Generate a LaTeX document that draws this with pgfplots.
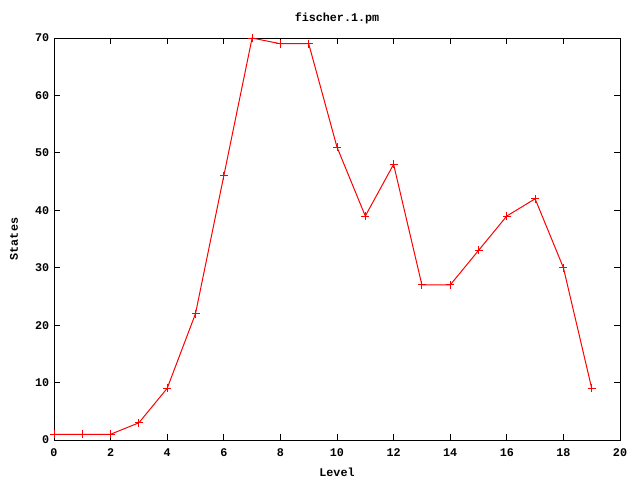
\documentclass[border=0pt]{standalone}
\usepackage{pgfplots}
\pgfplotsset{compat=1.18}
\usepackage{fontspec}
\setmainfont{Liberation Mono}[BoldFont={Liberation Mono Bold}]
\begin{document}
\begin{tikzpicture}
\useasboundingbox (0,0) rectangle (480pt,360pt);
\begin{axis}[
  scale only axis,
  width=424.5pt, height=301.5pt,
  at={(40.5pt,30pt)}, anchor=south west,
  xmin=0, xmax=20, ymin=0, ymax=70,
  xtick={0,2,...,20}, ytick={0,10,...,70},
  tick align=inside, major tick length=4.5pt,
  axis line style={black, line width=0.75pt},
  every tick/.style={black, line width=0.75pt},
  /pgf/number format/assume math mode=true,
  tick label style={font=\fontsize{8.8pt}{10pt}\selectfont\bfseries},
  xticklabel style={yshift=-3pt},
  title={fischer.1.pm},
  title style={font=\fontsize{8.8pt}{10pt}\selectfont\bfseries, at={(0.5,1)}, anchor=center, yshift=9pt},
  xlabel={Level},
  xlabel style={font=\fontsize{8.8pt}{10pt}\selectfont\bfseries, at={(0.5,0)}, anchor=center, yshift=-24pt},
  ylabel={States},
  ylabel style={font=\fontsize{8.8pt}{10pt}\selectfont\bfseries, at={(0,0.5)}, anchor=center, yshift=30pt},
  clip=false,
]
\addplot[color={rgb,255:red,255;green,0;blue,0}, line width=0.75pt, mark=+, mark size=3pt, mark options={line width=0.75pt}] coordinates {
(0,1) (1,1) (2,1) (3,3) (4,9) (5,22) (6,46) (7,70) (8,69) (9,69)
(10,51) (11,39) (12,48) (13,27) (14,27) (15,33) (16,39) (17,42) (18,30) (19,9)
};
\end{axis}
\end{tikzpicture}
\end{document}
